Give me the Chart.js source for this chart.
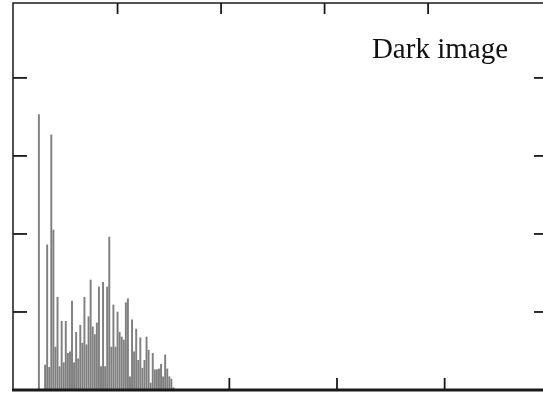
<!DOCTYPE html>
<html>
<head>
<meta charset="utf-8">
<script src="https://cdn.jsdelivr.net/npm/chart.js@4/dist/chart.umd.min.js"></script>
<style>
html,body{margin:0;padding:0;background:#fff;}
#wrap{width:543px;height:396px;}
</style>
</head>
<body>
<div id="wrap"><canvas id="c" width="543" height="396"></canvas></div>
<script>
// Gray levels (0-255) and histogram heights (relative units, 1 unit = one y tick)
const grayLevels = [12,13,14,15,16,17,18,19,20,21,22,23,24,25,26,27,28,29,30,31,32,33,34,35,36,37,38,39,40,41,42,43,44,45,46,47,48,49,50,51,52,53,54,55,56,57,58,59,60,61,62,63,64,65,66,67,68,69,70,71,72,73,74,75,76,77];
const counts = [3.53,0,0,0.32,1.86,0.29,3.27,2.05,0.55,1.19,0.30,0.88,0.35,0.88,0.47,0.49,1.14,0.35,0.74,0.40,0.83,0.60,1.19,0.58,0.94,1.41,0.81,0.71,0.86,1.32,0.30,1.38,0.30,1.32,1.96,0.55,1.09,0.55,1.00,0.74,0.68,0.64,1.12,1.17,0.17,0.90,0.49,0.78,0.38,0.67,0.28,0.38,0.68,0.51,0.09,0.47,0.26,0.26,0.27,0.33,0.17,0.45,0.27,0.17,0.14,0.03];
const topTicks = [50,100,150,200];
const bottomTicks = [104,156,208];
const yTicks = [1,2,3,4];
const label = "Dark image";

const points = grayLevels.map((g,i)=>({x:g,y:counts[i]}));

const frame = {
  id:'frame',
  afterDatasetsDraw(chart){
    const {ctx, chartArea:a, scales:{x,y}} = chart;
    ctx.save();
    ctx.strokeStyle = '#1a1a1a';
    ctx.lineCap = 'butt';
    ctx.lineWidth = 1.5;
    ctx.beginPath();
    ctx.moveTo(a.left, a.bottom); ctx.lineTo(a.left, a.top); ctx.lineTo(a.right, a.top);
    ctx.stroke();
    ctx.lineWidth = 3;
    ctx.beginPath();
    ctx.moveTo(a.left-1, a.bottom); ctx.lineTo(a.right, a.bottom);
    ctx.stroke();
    ctx.lineWidth = 1.8;
    topTicks.forEach(v=>{
      const px = x.getPixelForValue(v);
      ctx.beginPath(); ctx.moveTo(px, a.top); ctx.lineTo(px, a.top+11); ctx.stroke();
    });
    bottomTicks.forEach(v=>{
      const px = x.getPixelForValue(v);
      ctx.beginPath(); ctx.moveTo(px, a.bottom); ctx.lineTo(px, a.bottom-12); ctx.stroke();
    });
    yTicks.forEach(v=>{
      const py = y.getPixelForValue(v);
      ctx.beginPath(); ctx.moveTo(a.left, py); ctx.lineTo(a.left+14, py); ctx.stroke();
      ctx.beginPath(); ctx.moveTo(a.right, py); ctx.lineTo(a.right-9, py); ctx.stroke();
    });
    ctx.fillStyle = '#111';
    ctx.font = '29px "Liberation Serif", "Times New Roman", serif';
    ctx.textAlign = 'right';
    ctx.textBaseline = 'alphabetic';
    ctx.fillText(label, 508, 58);
    ctx.restore();
  }
};

new Chart(document.getElementById('c'), {
  type:'bar',
  data:{
    datasets:[{
      data: points,
      backgroundColor:'#808080',
      borderWidth:0,
      barThickness:1.3
    }]
  },
  options:{
    responsive:false,
    animation:false,
    layout:{padding:{left:13,right:0,top:3,bottom:6}},
    plugins:{legend:{display:false},tooltip:{enabled:false}},
    scales:{
      x:{type:'linear',min:-0.5,max:255.5,display:false,offset:false},
      y:{min:0,max:4.96,display:false}
    }
  },
  plugins:[frame]
});
</script>
</body>
</html>
